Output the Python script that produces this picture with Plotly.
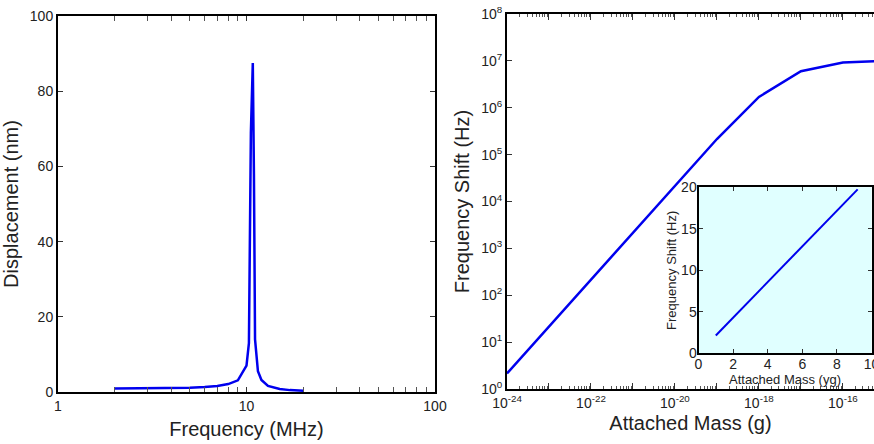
import plotly.graph_objects as go

# Left panel: resonance curve
freq_mhz = [2, 3, 4, 5, 6, 7, 8, 9, 10, 10.3, 10.55, 10.8, 10.95, 11.1, 11.5, 12, 13, 15, 17, 20]
disp_nm = [0.9, 0.95, 1.0, 1.1, 1.3, 1.6, 2.1, 3.1, 7.0, 13, 69, 87.5, 58, 14, 5.5, 3.2, 1.6, 0.8, 0.5, 0.35]

# Right panel: frequency shift vs attached mass
mass_g = [1e-24, 1e-23, 1e-22, 1e-21, 1e-20, 1e-19, 1e-18, 1e-17, 1e-16, 1e-15]
shift_hz = [2.15, 21.5, 215, 2150, 2.15e4, 2.15e5, 1.7e6, 6.0e6, 9.2e6, 1.0e7]

# Inset: linear region
inset_mass_yg = [1, 3, 5, 7, 9.2]
inset_shift_hz = [2.15, 6.45, 10.75, 15.05, 19.75]

left_xticks = [1, 10, 100]
left_yticks = [0, 20, 40, 60, 80, 100]
right_xexp = list(range(-24, -14))
right_yexp = list(range(0, 9))
inset_xticks = [0, 2, 4, 6, 8, 10]
inset_yticks = [0, 5, 10, 15, 20]

W, H = 874, 444
FONT = "Liberation Sans, Arial, sans-serif"
TXT = "#222222"
BLUE = "#0000ee"

def px(x):
    return x / W

def py(y):
    return 1 - y / H

fig = go.Figure()
fig.add_trace(go.Scatter(x=freq_mhz, y=disp_nm, mode="lines",
                         line=dict(color=BLUE, width=2.5), xaxis="x", yaxis="y"))
fig.add_trace(go.Scatter(x=mass_g, y=shift_hz, mode="lines",
                         line=dict(color=BLUE, width=2.5), xaxis="x2", yaxis="y2"))
fig.add_trace(go.Scatter(x=inset_mass_yg, y=inset_shift_hz, mode="lines",
                         line=dict(color=BLUE, width=2), xaxis="x3", yaxis="y3"))

minor_left = [m * 10 ** k for k in range(0, 2) for m in range(2, 10)]
minor_right = [m * 10.0 ** k for k in range(-24, -15) for m in range(2, 10)]

axis_common = dict(showgrid=False, zeroline=False, showline=True, linecolor="black",
                   linewidth=2, ticks="inside", tickcolor="#333", automargin=False,
                   tickfont=dict(size=14, color=TXT, family=FONT))

fig.update_layout(
    width=W, height=H,
    margin=dict(l=0, r=0, t=0, b=0),
    paper_bgcolor="white", plot_bgcolor="rgba(0,0,0,0)",
    showlegend=False,
    font=dict(family=FONT, color=TXT),
    xaxis=dict(**axis_common, type="log", range=[0, 2], domain=[px(58), px(435)], anchor="y",
               mirror="ticks", tickmode="array", tickvals=left_xticks,
               ticktext=[str(v) for v in left_xticks], ticklen=5,
               minor=dict(tickmode="array", tickvals=minor_left, ticks="inside", ticklen=5, tickcolor="#555"),
               title=dict(text="Frequency (MHz)", font=dict(size=20, color=TXT), standoff=9)),
    yaxis=dict(**axis_common, range=[0, 100], domain=[py(392), py(16)], anchor="x",
               mirror="ticks", tickmode="array", tickvals=left_yticks, ticklen=5,
               title=dict(text="Displacement (nm)", font=dict(size=20, color=TXT), standoff=6)),
    xaxis2=dict(**axis_common, type="log", range=[-24, -15.26], domain=[px(507), 1.0], anchor="y2",
                mirror="ticks", tickmode="array", tickvals=[10.0 ** e for e in right_xexp],
                ticktext=[("10<sup>%d</sup>" % e) if e % 2 == 0 else "" for e in right_xexp],
                ticklen=6,
                minor=dict(tickmode="array", tickvals=minor_right, ticks="inside", ticklen=3, tickcolor="#555"),
                title=dict(text="Attached Mass (g)", font=dict(size=20, color=TXT), standoff=6)),
    yaxis2=dict(**axis_common, type="log", range=[0, 8], domain=[py(389), py(14)], anchor="x2",
                mirror=False, tickmode="array", tickvals=[10.0 ** e for e in right_yexp],
                ticktext=["10<sup>%d</sup>" % e for e in right_yexp], ticklen=5,
                title=dict(text="Frequency Shift (Hz)", font=dict(size=20, color=TXT), standoff=6)),
    xaxis3=dict(**axis_common, range=[0, 10], domain=[px(698.5), px(871.5)], anchor="y3",
                mirror="ticks", tickmode="array", tickvals=inset_xticks, ticklen=4,
                ticklabeloverflow="allow", ticklabelstandoff=-3,
                title=dict(text="Attached Mass (yg)", font=dict(size=13, color=TXT), standoff=0)),
    yaxis3=dict(**axis_common, range=[0, 20], domain=[py(353.3), py(187.3)], anchor="x3",
                mirror="ticks", tickmode="array", tickvals=inset_yticks, ticklen=4,
                ticklabelstandoff=-3,
                title=dict(text="Frequency Shift (Hz)", font=dict(size=13, color=TXT), standoff=2)),
)

# Inset background
fig.add_shape(type="rect", xref="x3 domain", yref="y3 domain", x0=0, x1=1, y0=0, y1=1,
              fillcolor="#e0ffff", line=dict(width=0), layer="below")

fig.write_html("out.html", config={"displayModeBar": False},
               post_script="document.body.style.margin='0px';document.body.style.overflow='hidden';")
